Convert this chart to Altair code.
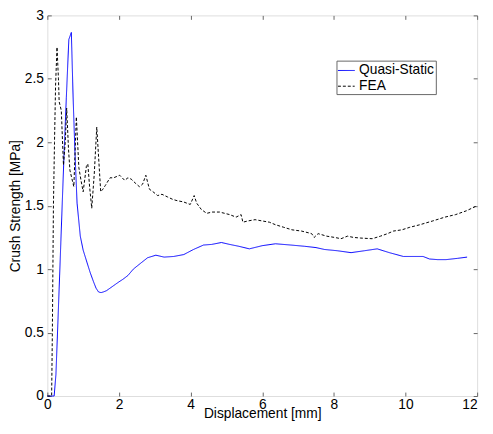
import altair as alt
import pandas as pd

qs_x = [0, 0.19, 0.24, 0.30, 0.36, 0.42, 0.47, 0.53, 0.60, 0.67, 0.72, 0.77, 0.83, 0.92, 1.00,
        1.11, 1.20, 1.29, 1.36, 1.43, 1.50, 1.56, 1.65, 1.75, 1.90, 2.00, 2.11, 2.25, 2.40,
        2.62, 2.80, 3.03, 3.26, 3.53, 3.81, 4.08, 4.36, 4.59, 4.86, 5.09, 5.35, 5.64, 6.00,
        6.37, 6.80, 7.19, 7.50, 7.74, 8.10, 8.48, 8.85, 9.21, 9.55, 9.94, 10.49, 10.67, 10.90,
        11.13, 11.45, 11.72]
qs_y = [0, 0, 0.17, 0.62, 1.08, 1.55, 1.93, 2.35, 2.81, 2.866, 2.35, 1.93, 1.52, 1.26, 1.15,
        1.05, 0.97, 0.90, 0.85, 0.82, 0.815, 0.82, 0.83, 0.85, 0.88, 0.90, 0.92, 0.95, 1.00,
        1.05, 1.09, 1.11, 1.095, 1.10, 1.115, 1.155, 1.19, 1.195, 1.21, 1.195, 1.18, 1.16, 1.185,
        1.20, 1.19, 1.18, 1.17, 1.155, 1.145, 1.13, 1.145, 1.16, 1.13, 1.10, 1.10, 1.08, 1.075,
        1.075, 1.085, 1.095]

fea_x = [0, 0.12, 0.14, 0.17, 0.20, 0.23, 0.27, 0.31, 0.33, 0.39, 0.45, 0.50, 0.54, 0.59, 0.63,
         0.68, 0.74, 0.81, 0.88, 0.94, 1.00, 1.09, 1.13, 1.18, 1.24, 1.31, 1.38, 1.49, 1.55,
         1.62, 1.75, 1.85, 2.02, 2.16, 2.25, 2.34, 2.45, 2.57, 2.66, 2.75, 2.85, 2.95, 3.08,
         3.20, 3.35, 3.50, 3.62, 3.80, 3.99, 4.10, 4.17, 4.30, 4.45, 4.60, 4.81, 4.95, 5.09,
         5.27, 5.41, 5.46, 5.60, 5.80, 6.00, 6.20, 6.37, 6.60, 6.83, 7.10, 7.38, 7.45, 7.56,
         7.80, 8.02, 8.20, 8.38, 8.55, 8.75, 9.07, 9.30, 9.50, 9.66, 9.90, 10.12, 10.40, 10.76,
         11.10, 11.40, 11.70, 12.0]
fea_y = [0, 0, 0.5, 1.5, 2.0, 2.45, 2.75, 2.50, 2.32, 2.25, 1.82, 2.00, 2.27, 1.95, 1.78,
         1.72, 1.65, 2.20, 1.80, 1.70, 1.61, 1.81, 1.83, 1.65, 1.48, 1.75, 2.12, 1.61, 1.63,
         1.66, 1.72, 1.72, 1.74, 1.70, 1.72, 1.71, 1.68, 1.65, 1.67, 1.74, 1.63, 1.61, 1.58,
         1.59, 1.57, 1.55, 1.54, 1.53, 1.51, 1.58, 1.52, 1.47, 1.44, 1.45, 1.45, 1.44, 1.43,
         1.41, 1.43, 1.37, 1.38, 1.39, 1.38, 1.37, 1.35, 1.33, 1.31, 1.30, 1.28, 1.25, 1.28,
         1.26, 1.25, 1.24, 1.26, 1.25, 1.245, 1.24, 1.26, 1.28, 1.30, 1.31, 1.33, 1.35, 1.38,
         1.41, 1.43, 1.46, 1.50]

series_names = ["Quasi-Static", "FEA"]
series_colors = ["#0000ff", "#000000"]
series_dash = [[1, 0], [3, 2]]

x_ticks = [0, 2, 4, 6, 8, 10, 12]
y_ticks = [0, 0.5, 1, 1.5, 2, 2.5, 3]

df = pd.concat([
    pd.DataFrame({"x": qs_x, "y": qs_y, "series": "Quasi-Static", "order": range(len(qs_x))}),
    pd.DataFrame({"x": fea_x, "y": fea_y, "series": "FEA", "order": range(len(fea_x))}),
])

FONT = "Liberation Sans"
AX = "#666666"

def ax_common(**kw):
    base = dict(domain=False, grid=False, tickSize=4, offset=-4, tickColor=AX,
                labelFont=FONT, labelFontSize=14, labelColor="black", format="~g",
                labelFlush=False,
                titleFont=FONT, titleFontSize=14, titleFontWeight="normal", titleColor="black")
    base.update(kw)
    return alt.Axis(**base)

def legend():
    return alt.Legend(title=None, orient="none", legendX=294, legendY=46,
                      strokeColor=AX, fillColor="white", padding=1,
                      labelFont=FONT, labelFontSize=14, labelColor="black",
                      symbolType="stroke", symbolSize=289, symbolStrokeWidth=1,
                      labelOffset=4, rowPadding=0)

xscale = alt.Scale(domain=[0, 12], nice=False)
yscale = alt.Scale(domain=[0, 3], nice=False)

lines = alt.Chart(df).mark_line(strokeWidth=1).encode(
    x=alt.X("x:Q", scale=xscale,
            axis=ax_common(orient="bottom", values=x_ticks, title="Displacement [mm]",
                           labelPadding=2, titleY=15, titleBaseline="top",
                           labelAlign={"condition": {"test": "datum.value >= 12", "value": "right"},
                                       "value": "center"})),
    y=alt.Y("y:Q", scale=yscale,
            axis=ax_common(orient="left", values=y_ticks, title="Crush Strength [MPa]",
                           labelPadding=4, titleX=-29, titleBaseline="bottom")),
    color=alt.Color("series:N",
                    scale=alt.Scale(domain=series_names, range=series_colors),
                    legend=legend()),
    strokeDash=alt.StrokeDash("series:N",
                              scale=alt.Scale(domain=series_names, range=series_dash),
                              legend=legend()),
    order="order:Q",
)

mirror = alt.Chart(df).mark_point(opacity=0).encode(
    x=alt.X("x:Q", scale=xscale,
            axis=ax_common(orient="top", values=x_ticks, labels=False, title=None)),
    y=alt.Y("y:Q", scale=yscale,
            axis=ax_common(orient="right", values=y_ticks, labels=False, title=None)),
)

chart = alt.layer(lines, mirror).properties(
    width=437, height=387,
    autosize=alt.AutoSizeParams(type="none"),
    padding={"left": 40, "top": 4, "right": 8, "bottom": 30},
).configure_view(stroke=AX, strokeWidth=1).configure(background="white")

chart.save("out.html", embed_options={"renderer": "svg", "actions": False})
